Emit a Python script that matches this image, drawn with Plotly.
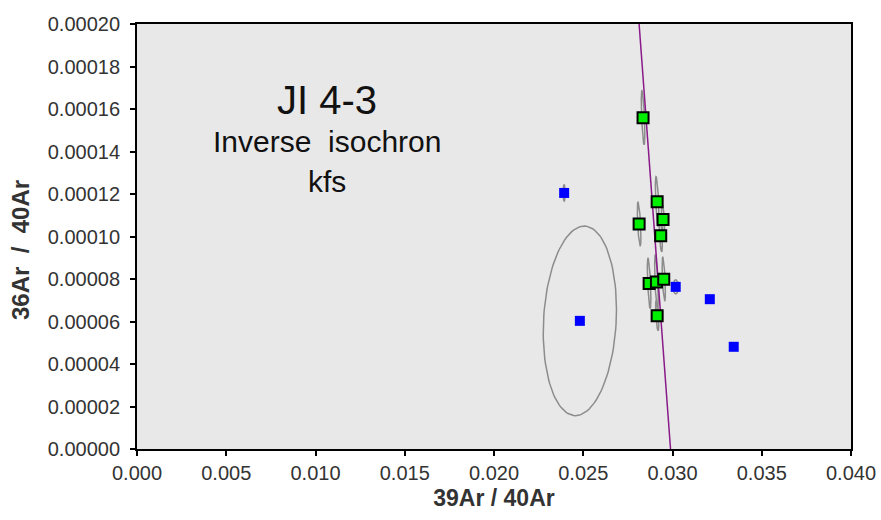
import numpy as np
import plotly.graph_objects as go

# Plateau (green) steps: 39Ar/40Ar, 36Ar/40Ar and error-ellipse half-widths
plateau_x = [0.02835, 0.02914, 0.02947, 0.02813, 0.02934, 0.02869, 0.02910, 0.02951, 0.02914]
plateau_y = [0.0001559, 0.0001164, 0.0001080, 0.0001059, 0.0001003, 0.0000779, 0.0000786, 0.0000799, 0.0000627]
plateau_ex = [0.00010, 0.00010, 0.00009, 0.00010, 0.00009, 0.00010, 0.00010, 0.00009, 0.00009]
plateau_ey = [0.0000127, 0.0000118, 0.0000075, 0.0000103, 0.0000075, 0.0000118, 0.0000127, 0.0000103, 0.0000070]
plateau_rho = [-0.6, -0.6, -0.6, -0.6, -0.6, -0.6, -0.6, -0.6, -0.6]

# Excluded (blue) steps
other_x = [0.02393, 0.02481, 0.03018, 0.03209, 0.03343]
other_y = [0.0001205, 0.0000603, 0.0000763, 0.0000705, 0.0000481]
other_ex = [0.00006, 0.002052, 0.00015, 0.00005, 0.00005]
other_ey = [0.0000038, 0.0000446, 0.0000033, 0.0000010, 0.0000010]
other_rho = [0.0, 0.12, 0.0, 0.0, 0.0]

# Isochron fit: 36/40 intercept (atmospheric) and 39/40 intercept
iso_y_intercept = 1.0 / 294.5
iso_x_intercept = 0.02989

x_ticks = [0.000, 0.005, 0.010, 0.015, 0.020, 0.025, 0.030, 0.035, 0.040]
y_ticks = [0.00000, 0.00002, 0.00004, 0.00006, 0.00008, 0.00010, 0.00012, 0.00014, 0.00016, 0.00018, 0.00020]


def ellipse(cx, cy, ex, ey, rho, n=120):
    t = np.linspace(0, 2 * np.pi, n)
    x = cx + ex * np.cos(t)
    y = cy + ey * (rho * np.cos(t) + np.sqrt(1 - rho ** 2) * np.sin(t))
    return x, y


fig = go.Figure()

# error ellipses
ell_x, ell_y = [], []
for xs, ys, exs, eys, rs in [(plateau_x, plateau_y, plateau_ex, plateau_ey, plateau_rho),
                             (other_x, other_y, other_ex, other_ey, other_rho)]:
    for cx, cy, ex, ey, r in zip(xs, ys, exs, eys, rs):
        ex_, ey_ = ellipse(cx, cy, ex, ey, r)
        ell_x += list(ex_) + [None]
        ell_y += list(ey_) + [None]
fig.add_trace(go.Scatter(x=ell_x, y=ell_y, mode="lines",
                         line=dict(color="#8c8c8c", width=1.5),
                         hoverinfo="skip", showlegend=False))

# isochron line
slope = -iso_y_intercept / iso_x_intercept
line_y = np.array([0.0, 0.0002])
line_x = (line_y - iso_y_intercept) / slope
fig.add_trace(go.Scatter(x=line_x, y=line_y, mode="lines",
                         line=dict(color="#8a1a8a", width=1.5),
                         hoverinfo="skip", showlegend=False))

fig.add_trace(go.Scatter(x=other_x, y=other_y, mode="markers",
                         marker=dict(symbol="square", size=10, color="#0000ff",
                                     line=dict(width=0)),
                         showlegend=False))
fig.add_trace(go.Scatter(x=plateau_x, y=plateau_y, mode="markers",
                         marker=dict(symbol="square", size=11, color="#00ee00",
                                     line=dict(color="#000000", width=2)),
                         showlegend=False))

font_family = "Liberation Sans, Arial, sans-serif"

label_lines = [("JI 4-3", 40, 100), ("Inverse  isochron", 30, 141), ("kfs", 30, 181)]
for text, size, py in label_lines:
    fig.add_annotation(text=text, xref="paper", yref="paper",
                       x=(327 - 137) / 714, y=(449 - py) / 425,
                       xanchor="center", yanchor="middle",
                       showarrow=False, font=dict(family=font_family, size=size, color="#111"))

# vertical axis title
fig.add_annotation(text="<b>36Ar  /  40Ar</b>", xref="paper", yref="paper",
                   x=(20 - 137) / 714, y=(449 - 250) / 425, textangle=-90,
                   xanchor="center", yanchor="middle", showarrow=False,
                   font=dict(family=font_family, size=24, color="#333"))

axis_common = dict(showline=True, linecolor="black", linewidth=2, mirror=True,
                   ticks="outside", ticklen=5, tickwidth=2, tickcolor="black",
                   showgrid=False, zeroline=False,
                   tickfont=dict(family=font_family, size=20, color="#333"))

fig.update_xaxes(range=[0, 0.040], tickvals=x_ticks, tickformat=".3f",
                 title=dict(text="<b>39Ar / 40Ar</b>", standoff=7,
                            font=dict(family=font_family, size=23, color="#333")),
                 **axis_common)
fig.update_yaxes(range=[0, 0.00020], tickvals=y_ticks, tickformat=".5f",
                 ticklabelstandoff=6, **axis_common)

fig.update_layout(width=881, height=520,
                  margin=dict(l=137, r=30, t=24, b=71, autoexpand=False),
                  plot_bgcolor="#e8e8e8", paper_bgcolor="white")

fig.write_html("out.html")
